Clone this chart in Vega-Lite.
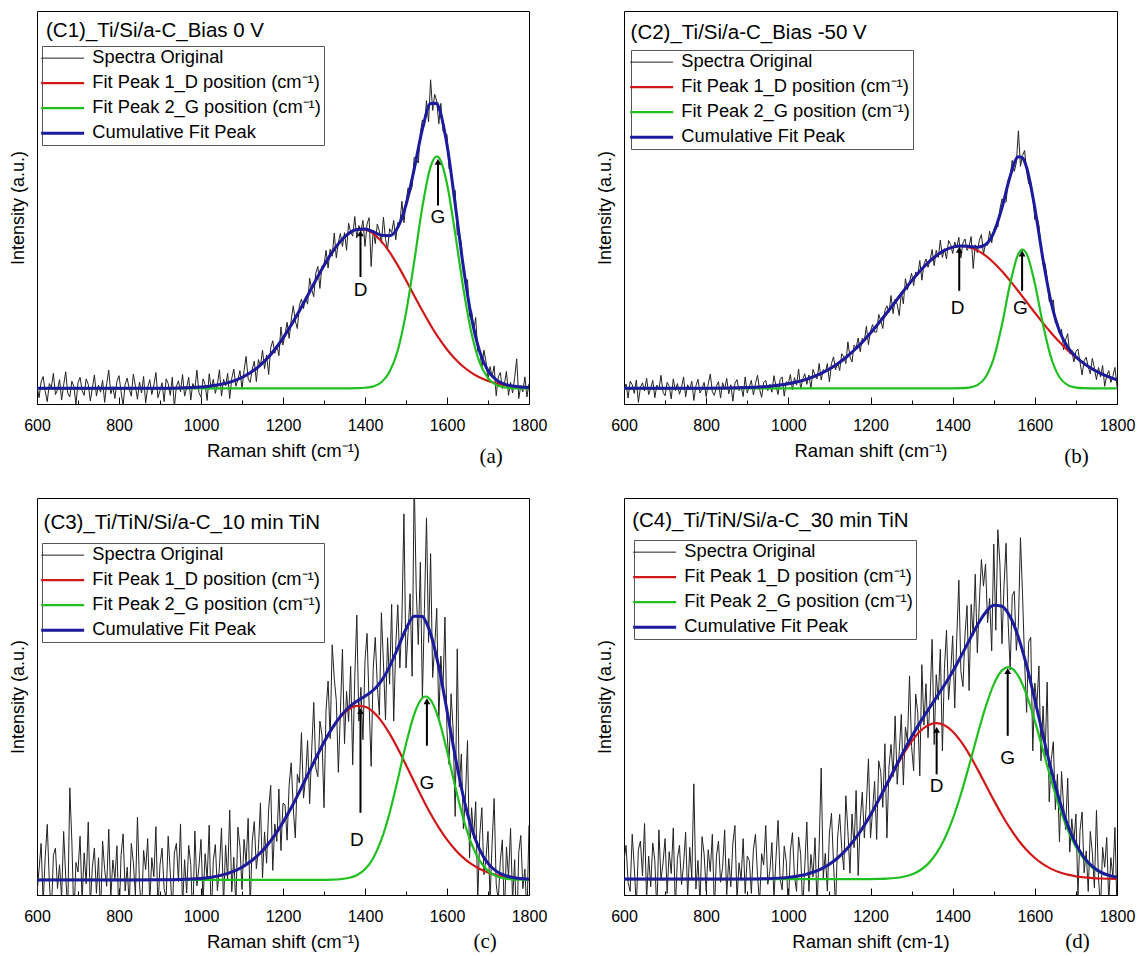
{
"$schema": "https://vega.github.io/schema/vega-lite/v6.json",
"padding": {"left": 8, "top": 10, "right": 5, "bottom": 5},
"background": "white",
"config": {"font": "Liberation Sans", "view": {"stroke": "black", "strokeWidth": 1}},
"columns": 2,
"bounds": "flush",
"spacing": {"row": 94, "column": 95},
"resolve": {"scale": {"color": "independent", "strokeWidth": "independent"}},
"datasets": {
"spec": [
{"x":600,"a":4.6,"b":3.6,"c":0.4,"d":8.7},{"x":605,"a":1.6,"b":5.1,"c":6.4,"d":12.5},{"x":610,"a":5.6,"b":1.5,"c":13.0,"d":3.2},{"x":615,"a":7.0,"b":5.8,"c":-2.0,"d":0.9},{"x":620,"a":3.2,"b":4.9,"c":9.4,"d":15.3},{"x":625,"a":0.6,"b":2.7,"c":17.8,"d":7.0},{"x":630,"a":5.2,"b":6.1,"c":3.4,"d":-2.9},{"x":635,"a":4.2,"b":0.4,"c":-5.0,"d":11.4},{"x":640,"a":7.8,"b":4.3,"c":10.0,"d":13.6},{"x":645,"a":2.4,"b":5.4,"c":11.8,"d":4.8},
{"x":650,"a":3.6,"b":3.3,"c":1.6,"d":18.0},{"x":655,"a":6.2,"b":6.6,"c":7.6,"d":-1.3},{"x":660,"a":1.0,"b":2.4,"c":-0.8,"d":9.8},{"x":665,"a":4.8,"b":4.0,"c":16.0,"d":2.1},{"x":670,"a":8.2,"b":6.0,"c":4.6,"d":13.1},{"x":675,"a":2.8,"b":1.6,"c":-3.8,"d":8.7},{"x":680,"a":1.8,"b":4.8,"c":27.0,"d":-4.6},{"x":685,"a":5.8,"b":3.7,"c":13.6,"d":16.4},{"x":690,"a":4.4,"b":7.3,"c":-6.2,"d":3.7},{"x":695,"a":0.0,"b":3.0,"c":8.2,"d":8.1},
{"x":700,"a":5.4,"b":2.1,"c":5.8,"d":14.2},{"x":705,"a":6.8,"b":5.5,"c":14.8,"d":0.4},{"x":710,"a":3.4,"b":4.5,"c":-1.4,"d":10.9},{"x":715,"a":2.2,"b":1.3,"c":10.6,"d":5.4},{"x":720,"a":6.4,"b":6.4,"c":2.8,"d":16.9},{"x":725,"a":5.0,"b":3.4,"c":18.4,"d":-3.5},{"x":730,"a":0.8,"b":5.2,"c":-2.6,"d":9.2},{"x":735,"a":4.0,"b":2.5,"c":7.0,"d":12.5},{"x":740,"a":7.4,"b":4.2,"c":11.8,"d":2.6},{"x":745,"a":2.0,"b":6.9,"c":0.4,"d":7.6},
{"x":750,"a":4.8,"b":1.8,"c":9.4,"d":15.8},{"x":755,"a":3.0,"b":4.9,"c":-5.6,"d":-0.7},{"x":760,"a":6.0,"b":3.6,"c":13.6,"d":12.0},{"x":765,"a":0.4,"b":5.8,"c":6.4,"d":4.3},{"x":770,"a":5.2,"b":0.9,"c":2.2,"d":28.0},{"x":775,"a":8.6,"b":4.6,"c":16.6,"d":1.5},{"x":780,"a":2.6,"b":6.3,"c":-0.8,"d":8.7},{"x":785,"a":4.4,"b":2.8,"c":8.8,"d":-1.8},{"x":790,"a":1.4,"b":3.9,"c":4.0,"d":14.7},{"x":795,"a":5.8,"b":5.5,"c":12.4,"d":10.3},
{"x":800,"a":7.2,"b":1.9,"c":-7.4,"d":1.0},{"x":805,"a":3.2,"b":5.1,"c":10.0,"d":11.4},{"x":810,"a":-0.4,"b":7.6,"c":15.4,"d":5.9},{"x":815,"a":5.0,"b":3.1,"c":1.0,"d":15.3},{"x":820,"a":6.6,"b":2.2,"c":7.0,"d":-4.0},{"x":825,"a":3.8,"b":4.5,"c":-2.6,"d":9.8},{"x":830,"a":2.0,"b":5.7,"c":13.0,"d":13.6},{"x":835,"a":7.6,"b":1.5,"c":8.2,"d":3.2},{"x":840,"a":4.6,"b":5.4,"c":-0.2,"d":7.0},{"x":845,"a":1.2,"b":3.8,"c":19.6,"d":16.4},
{"x":850,"a":5.6,"b":6.5,"c":2.8,"d":-0.2},{"x":855,"a":2.8,"b":2.6,"c":-4.4,"d":9.2},{"x":860,"a":7.0,"b":4.9,"c":11.2,"d":2.1},{"x":865,"a":0.2,"b":0.7,"c":6.4,"d":13.1},{"x":870,"a":4.2,"b":5.3,"c":14.2,"d":17.5},{"x":875,"a":6.2,"b":6.2,"c":-2.0,"d":-1.3},{"x":880,"a":2.4,"b":3.4,"c":9.4,"d":8.1},{"x":885,"a":4.8,"b":4.5,"c":4.6,"d":3.7},{"x":890,"a":8.0,"b":1.9,"c":17.2,"d":14.2},{"x":895,"a":1.6,"b":6.9,"c":-3.8,"d":0.4},
{"x":900,"a":3.4,"b":2.8,"c":7.6,"d":9.8},{"x":905,"a":5.4,"b":4.4,"c":11.8,"d":8.7},{"x":910,"a":0.6,"b":6.0,"c":1.6,"d":0.4},{"x":915,"a":6.4,"b":2.3,"c":-0.8,"d":11.5},{"x":920,"a":5.2,"b":5.2,"c":14.8,"d":15.3},{"x":925,"a":2.2,"b":7.3,"c":5.8,"d":4.9},{"x":930,"a":6.8,"b":3.8,"c":-5.0,"d":-2.3},{"x":935,"a":-0.8,"b":1.7,"c":10.6,"d":10.4},{"x":940,"a":4.5,"b":5.5,"c":13.0,"d":7.6},{"x":945,"a":5.9,"b":6.0,"c":3.4,"d":17.5},
{"x":950,"a":3.1,"b":3.4,"c":17.9,"d":2.7},{"x":955,"a":7.5,"b":5.0,"c":-3.1,"d":6.0},{"x":960,"a":2.0,"b":3.0,"c":8.9,"d":13.2},{"x":965,"a":4.1,"b":7.2,"c":0.5,"d":-1.0},{"x":970,"a":6.8,"b":4.5,"c":12.5,"d":9.4},{"x":975,"a":1.0,"b":2.4,"c":7.7,"d":18.8},{"x":980,"a":5.2,"b":6.2,"c":-6.7,"d":4.0},{"x":985,"a":3.8,"b":6.9,"c":16.1,"d":1.3},{"x":990,"a":8.6,"b":2.0,"c":2.3,"d":12.3},{"x":995,"a":2.9,"b":5.7,"c":7.1,"d":8.5},
{"x":1000,"a":1.7,"b":5.2,"c":14.0,"d":-3.6},{"x":1005,"a":6.4,"b":7.5,"c":-2.1,"d":11.1},{"x":1010,"a":5.0,"b":3.6,"c":10.4,"d":15.7},{"x":1015,"a":0.9,"b":6.7,"c":3.9,"d":4.7},{"x":1020,"a":7.7,"b":4.8,"c":17.6,"d":0.9},{"x":1025,"a":3.8,"b":8.9,"c":-6.4,"d":14.6},{"x":1030,"a":6.3,"b":3.8,"c":8.7,"d":10.2},{"x":1035,"a":2.7,"b":6.3,"c":12.7,"d":-3.4},{"x":1040,"a":5.0,"b":7.7,"c":1.1,"d":7.1},{"x":1045,"a":8.7,"b":5.0,"c":7.0,"d":18.4},
{"x":1050,"a":2.0,"b":7.4,"c":16.9,"d":0.9},{"x":1055,"a":6.3,"b":3.9,"c":-2.5,"d":10.2},{"x":1060,"a":4.6,"b":8.8,"c":12.6,"d":4.5},{"x":1065,"a":7.8,"b":7.3,"c":3.7,"d":14.4},{"x":1070,"a":1.4,"b":6.4,"c":21.4,"d":-3.5},{"x":1075,"a":6.5,"b":10.3,"c":0.8,"d":12.3},{"x":1080,"a":8.9,"b":6.1,"c":9.5,"d":32.0},{"x":1085,"a":4.5,"b":8.8,"c":-2.7,"d":4.3},{"x":1090,"a":6.1,"b":7.9,"c":17.1,"d":10.5},{"x":1095,"a":8.5,"b":10.3,"c":12.2,"d":1.0},
{"x":1100,"a":4.0,"b":5.6,"c":1.4,"d":15.6},{"x":1105,"a":8.5,"b":10.3,"c":14.0,"d":20.6},{"x":1110,"a":12.1,"b":12.0,"c":7.9,"d":7.9},{"x":1115,"a":6.4,"b":8.7,"c":19.3,"d":-3.4},{"x":1120,"a":5.5,"b":10.5,"c":-3.1,"d":14.6},{"x":1125,"a":8.9,"b":8.5,"c":13.6,"d":20.3},{"x":1130,"a":10.9,"b":12.8,"c":18.5,"d":11.7},{"x":1135,"a":5.7,"b":12.0,"c":6.6,"d":6.3},{"x":1140,"a":11.3,"b":10.3,"c":11.6,"d":25.0},{"x":1145,"a":9.6,"b":15.8,"c":23.2,"d":16.0},
{"x":1150,"a":13.7,"b":12.0,"c":4.3,"d":5.5},{"x":1155,"a":9.0,"b":10.7,"c":15.9,"d":20.4},{"x":1160,"a":12.5,"b":15.0,"c":8.0,"d":11.9},{"x":1165,"a":7.5,"b":14.3,"c":21.7,"d":26.3},{"x":1170,"a":14.3,"b":16.8,"c":27.6,"d":4.9},{"x":1175,"a":16.1,"b":13.3,"c":6.2,"d":18.7},{"x":1180,"a":12.9,"b":16.7,"c":17.9,"d":25.9},{"x":1185,"a":15.0,"b":16.0,"c":13.5,"d":14.4},{"x":1190,"a":12.3,"b":19.8,"c":26.7,"d":23.1},{"x":1195,"a":19.6,"b":15.1,"c":11.2,"d":34.3},
{"x":1200,"a":15.0,"b":18.5,"c":23.1,"d":14.4},{"x":1205,"a":17.8,"b":20.2,"c":22.7,"d":21.2},{"x":1210,"a":20.8,"b":18.3,"c":13.8,"d":28.6},{"x":1215,"a":16.7,"b":18.3,"c":27.8,"d":14.0},{"x":1220,"a":21.3,"b":22.8,"c":33.3,"d":33.8},{"x":1225,"a":25.0,"b":21.2,"c":21.9,"d":30.9},{"x":1230,"a":21.1,"b":19.2,"c":14.4,"d":22.1},{"x":1235,"a":19.2,"b":23.8,"c":30.4,"d":38.1},{"x":1240,"a":25.1,"b":25.0,"c":28.2,"d":14.4},{"x":1245,"a":26.7,"b":23.3,"c":40.9,"d":32.3},
{"x":1250,"a":24.3,"b":27.6,"c":24.4,"d":37.9},{"x":1255,"a":27.2,"b":23.0,"c":29.4,"d":29.8},{"x":1260,"a":25.4,"b":26.7,"c":38.9,"d":45.1},{"x":1265,"a":32.0,"b":25.3,"c":23.0,"d":27.9},{"x":1270,"a":29.1,"b":22.5,"c":36.4,"d":36.1},{"x":1275,"a":27.3,"b":28.5,"c":48.5,"d":45.5},{"x":1280,"a":33.3,"b":25.5,"c":32.0,"d":27.7},{"x":1285,"a":35.0,"b":31.9,"c":29.8,"d":42.3},{"x":1290,"a":29.4,"b":29.1,"c":43.8,"d":38.7},{"x":1295,"a":35.1,"b":31.0,"c":40.3,"d":55.2},
{"x":1300,"a":35.3,"b":33.3,"c":22.0,"d":37.4},{"x":1305,"a":39.1,"b":30.1,"c":46.7,"d":31.3},{"x":1310,"a":34.6,"b":33.6,"c":53.9,"d":50.6},{"x":1315,"a":39.4,"b":32.7,"c":39.4,"d":45.9},{"x":1320,"a":37.6,"b":36.5,"c":63.0,"d":30.0},{"x":1325,"a":43.5,"b":31.5,"c":54.6,"d":58.0},{"x":1330,"a":37.2,"b":35.5,"c":49.0,"d":42.8},{"x":1335,"a":41.1,"b":36.9,"c":30.9,"d":53.2},{"x":1340,"a":43.4,"b":34.8,"c":46.0,"d":39.6},{"x":1345,"a":40.1,"b":36.6,"c":61.9,"d":49.2},
{"x":1350,"a":43.6,"b":39.3,"c":38.1,"d":64.4},{"x":1355,"a":39.1,"b":35.2,"c":51.3,"d":37.9},{"x":1360,"a":46.0,"b":39.1,"c":43.7,"d":55.5},{"x":1365,"a":43.8,"b":37.3,"c":57.6,"d":49.1},{"x":1370,"a":42.7,"b":41.7,"c":32.8,"d":61.9},{"x":1375,"a":47.7,"b":37.3,"c":54.8,"d":36.3},{"x":1380,"a":42.2,"b":39.5,"c":70.5,"d":57.1},{"x":1385,"a":45.4,"b":36.9,"c":43.8,"d":66.7},{"x":1390,"a":43.9,"b":41.6,"c":52.3,"d":49.2},{"x":1395,"a":46.7,"b":40.6,"c":39.1,"d":55.7},
{"x":1400,"a":40.1,"b":38.3,"c":59.2,"d":65.3},{"x":1405,"a":45.8,"b":41.2,"c":65.9,"d":47.1},{"x":1410,"a":47.4,"b":39.8,"c":48.2,"d":64.8},{"x":1415,"a":35.0,"b":42.4,"c":32.4,"d":79.3},{"x":1420,"a":44.3,"b":37.2,"c":57.1,"d":56.3},{"x":1425,"a":40.8,"b":41.0,"c":64.9,"d":52.5},{"x":1430,"a":45.8,"b":42.0,"c":52.9,"d":65.5},{"x":1435,"a":44.0,"b":39.1,"c":45.3,"d":72.9},{"x":1440,"a":40.9,"b":40.1,"c":71.1,"d":51.5},{"x":1445,"a":47.5,"b":42.6,"c":58.5,"d":73.2},
{"x":1450,"a":41.9,"b":34.5,"c":44.1,"d":65.4},{"x":1455,"a":39.4,"b":40.5,"c":64.8,"d":80.8},{"x":1460,"a":44.6,"b":38.5,"c":53.1,"d":61.0},{"x":1465,"a":43.6,"b":41.7,"c":73.2,"d":73.8},{"x":1470,"a":46.7,"b":43.1,"c":43.8,"d":84.5},{"x":1475,"a":41.8,"b":38.1,"c":62.9,"d":77.8},{"x":1480,"a":46.2,"b":40.9,"c":73.1,"d":83.4},{"x":1485,"a":46.0,"b":40.4,"c":57.2,"d":68.6},{"x":1490,"a":51.6,"b":44.0,"c":69.2,"d":74.7},{"x":1495,"a":46.1,"b":41.0,"c":96.0,"d":61.5},
{"x":1500,"a":51.3,"b":44.3,"c":57.2,"d":88.4},{"x":1505,"a":55.0,"b":45.6,"c":66.1,"d":66.7},{"x":1510,"a":53.8,"b":45.0,"c":75.9,"d":92.0},{"x":1515,"a":55.3,"b":49.6,"c":55.1,"d":83.4},{"x":1520,"a":62.8,"b":52.2,"c":105,"d":63.3},{"x":1525,"a":62.3,"b":51.4,"c":76.6,"d":78.0},{"x":1530,"a":61.3,"b":51.4,"c":63.1,"d":88.6},{"x":1535,"a":69.0,"b":56.9,"c":83.8,"d":68.8},{"x":1540,"a":72.3,"b":58.1,"c":49.6,"d":56.7},{"x":1545,"a":70.8,"b":62.0,"c":72.2,"d":75.4},
{"x":1550,"a":77.2,"b":59.2,"c":95.0,"d":76.5},{"x":1555,"a":71.8,"b":61.4,"c":63.6,"d":61.6},{"x":1560,"a":82.5,"b":69.5,"c":86.0,"d":68.3},{"x":1565,"a":74.7,"b":60.5,"c":54.8,"d":90.0},{"x":1570,"a":78.8,"b":63.2,"c":62.6,"d":76.0},{"x":1575,"a":77.1,"b":64.5,"c":72.2,"d":59.0},{"x":1580,"a":71.3,"b":59.3,"c":44.0,"d":46.0},{"x":1585,"a":76.5,"b":56.0,"c":60.2,"d":63.8},{"x":1590,"a":69.5,"b":56.4,"c":51.1,"d":64.9},{"x":1595,"a":68.7,"b":52.8,"c":70.0,"d":36.3},
{"x":1600,"a":68.6,"b":46.9,"c":41.1,"d":53.4},{"x":1605,"a":59.8,"b":47.6,"c":32.9,"d":47.9},{"x":1610,"a":59.8,"b":45.4,"c":50.7,"d":57.7},{"x":1615,"a":54.0,"b":39.6,"c":41.5,"d":33.8},{"x":1620,"a":54.4,"b":35.4,"c":19.8,"d":47.6},{"x":1625,"a":43.0,"b":35.8,"c":62.0,"d":35.0},{"x":1630,"a":43.6,"b":32.0,"c":27.2,"d":53.6},{"x":1635,"a":40.8,"b":26.1,"c":35.5,"d":23.5},{"x":1640,"a":33.2,"b":25.7,"c":16.7,"d":34.1},{"x":1645,"a":31.8,"b":26.5,"c":24.7,"d":38.6},
{"x":1650,"a":31.6,"b":20.6,"c":38.9,"d":21.5},{"x":1655,"a":22.3,"b":20.9,"c":9.3,"d":30.4},{"x":1660,"a":23.7,"b":17.8,"c":22.0,"d":13.4},{"x":1665,"a":18.7,"b":19.0,"c":14.3,"d":31.1},{"x":1670,"a":22.0,"b":13.8,"c":23.5,"d":22.3},{"x":1675,"a":13.4,"b":16.4,"c":-1.0,"d":16.5},{"x":1680,"a":13.8,"b":17.9,"c":15.2,"d":29.4},{"x":1685,"a":8.9,"b":12.8,"c":22.0,"d":10.8},{"x":1690,"a":13.7,"b":13.6,"c":5.1,"d":19.2},{"x":1695,"a":10.9,"b":10.7,"c":9.1,"d":13.2},
{"x":1700,"a":6.3,"b":13.4,"c":16.0,"d":20.4},{"x":1705,"a":9.5,"b":14.0,"c":-1.3,"d":-0.2},{"x":1710,"a":6.9,"b":10.6,"c":12.9,"d":16.3},{"x":1715,"a":9.7,"b":7.4,"c":24.3,"d":20.9},{"x":1720,"a":2.1,"b":11.0,"c":2.8,"d":5.6},{"x":1725,"a":6.9,"b":11.9,"c":-1.6,"d":11.1},{"x":1730,"a":8.0,"b":9.4,"c":8.6,"d":0.9},{"x":1735,"a":3.9,"b":7.7,"c":13.9,"d":16.0},{"x":1740,"a":5.1,"b":11.6,"c":-5.9,"d":10.6},{"x":1745,"a":8.3,"b":9.1,"c":12.1,"d":1.8},
{"x":1750,"a":2.2,"b":6.2,"c":4.3,"d":21.3},{"x":1755,"a":5.5,"b":9.3,"c":16.8,"d":4.1},{"x":1760,"a":2.8,"b":6.9,"c":-1.6,"d":-3.4},{"x":1765,"a":6.7,"b":9.8,"c":8.9,"d":12.0},{"x":1770,"a":11.5,"b":4.5,"c":-10.8,"d":7.0},{"x":1775,"a":1.4,"b":7.3,"c":10.8,"d":14.5},{"x":1780,"a":4.7,"b":8.5,"c":15.0,"d":-1.9},{"x":1785,"a":3.1,"b":5.5,"c":1.6,"d":9.4},{"x":1790,"a":6.9,"b":7.1,"c":6.5,"d":4.5},{"x":1795,"a":1.8,"b":9.3,"c":-5.5,"d":17.0},
{"x":1800,"a":5.2,"b":4.4,"c":17.6,"d":-4.1}
],
"fa": [
{"x":600,"D":4,"G":4,"C":4},{"x":700,"D":4,"G":4,"C":4},{"x":800,"D":4,"G":4,"C":4},{"x":900,"D":4.02,"G":4,"C":4.02},{"x":950,"D":4.08,"G":4,"C":4.08},{"x":1000,"D":4.31,"G":4,"C":4.31},{"x":1020,"D":4.51,"G":4,"C":4.51},{"x":1040,"D":4.81,"G":4,"C":4.81},{"x":1060,"D":5.24,"G":4,"C":5.24},{"x":1080,"D":5.87,"G":4,"C":5.87},{"x":1100,"D":6.75,"G":4,"C":6.75},{"x":1120,"D":7.93,"G":4,"C":7.93},{"x":1140,"D":9.47,"G":4,"C":9.47},{"x":1160,"D":11.45,"G":4,"C":11.45},{"x":1180,"D":13.88,"G":4,"C":13.88},{"x":1200,"D":16.76,"G":4,"C":16.76},{"x":1220,"D":20.08,"G":4,"C":20.08},{"x":1240,"D":23.72,"G":4,"C":23.72},{"x":1260,"D":27.57,"G":4,"C":27.57},{"x":1280,"D":31.5,"G":4,"C":31.5},{"x":1300,"D":35.27,"G":4,"C":35.27},{"x":1320,"D":38.63,"G":4,"C":38.63},{"x":1340,"D":41.38,"G":4,"C":41.38},{"x":1360,"D":43.37,"G":4,"C":43.37},{"x":1380,"D":44.38,"G":4.02,"C":44.4},{"x":1400,"D":44.38,"G":4.13,"C":44.51},{"x":1420,"D":43.37,"G":4.48,"C":43.85},{"x":1440,"D":41.38,"G":5.53,"C":42.91},{"x":1460,"D":38.63,"G":8.19,"C":42.82},{"x":1480,"D":35.27,"G":13.68,"C":44.95},{"x":1500,"D":31.5,"G":23.18,"C":50.68},{"x":1520,"D":27.57,"G":36.21,"C":59.78},{"x":1540,"D":23.72,"G":50.2,"C":69.92},{"x":1560,"D":20.08,"G":60.4,"C":76.48},{"x":1575,"D":17.53,"G":63,"C":76.53},{"x":1580,"D":16.76,"G":62.7,"C":75.46},{"x":1600,"D":13.88,"G":56.07,"C":65.95},{"x":1620,"D":11.45,"G":43.35,"C":50.8},{"x":1640,"D":9.47,"G":29.37,"C":34.84},{"x":1660,"D":7.93,"G":17.92,"C":21.85},{"x":1680,"D":6.75,"G":10.49,"C":13.24},{"x":1700,"D":5.87,"G":6.6,"C":8.47},{"x":1720,"D":5.24,"G":4.89,"C":6.13},{"x":1740,"D":4.81,"G":4.25,"C":5.06},{"x":1760,"D":4.51,"G":4.06,"C":4.57},{"x":1780,"D":4.31,"G":4,"C":4.31},{"x":1800,"D":4.2,"G":4,"C":4.2}
],
"fb": [
{"x":600,"D":4,"G":4,"C":4},{"x":700,"D":4,"G":4,"C":4},{"x":800,"D":4.02,"G":4,"C":4.02},{"x":900,"D":4.18,"G":4,"C":4.18},{"x":950,"D":4.48,"G":4,"C":4.48},{"x":1000,"D":5.15,"G":4,"C":5.15},{"x":1020,"D":5.59,"G":4,"C":5.59},{"x":1040,"D":6.15,"G":4,"C":6.15},{"x":1060,"D":6.88,"G":4,"C":6.88},{"x":1080,"D":7.79,"G":4,"C":7.79},{"x":1100,"D":8.9,"G":4,"C":8.9},{"x":1120,"D":10.24,"G":4,"C":10.24},{"x":1140,"D":11.84,"G":4,"C":11.84},{"x":1160,"D":13.67,"G":4,"C":13.67},{"x":1180,"D":15.75,"G":4,"C":15.75},{"x":1200,"D":18.07,"G":4,"C":18.07},{"x":1220,"D":20.57,"G":4,"C":20.57},{"x":1240,"D":23.23,"G":4,"C":23.23},{"x":1260,"D":25.96,"G":4,"C":25.96},{"x":1280,"D":28.69,"G":4,"C":28.69},{"x":1300,"D":31.32,"G":4,"C":31.32},{"x":1320,"D":33.78,"G":4,"C":33.78},{"x":1340,"D":35.95,"G":4,"C":35.95},{"x":1360,"D":37.74,"G":4,"C":37.74},{"x":1380,"D":39.09,"G":4,"C":39.09},{"x":1400,"D":39.92,"G":4,"C":39.92},{"x":1420,"D":40.2,"G":4.03,"C":40.23},{"x":1440,"D":39.92,"G":4.18,"C":40.1},{"x":1460,"D":39.09,"G":4.8,"C":39.89},{"x":1480,"D":37.74,"G":6.81,"C":40.55},{"x":1500,"D":35.95,"G":11.64,"C":43.59},{"x":1520,"D":33.78,"G":20.16,"C":49.94},{"x":1540,"D":31.32,"G":30.64,"C":57.96},{"x":1560,"D":28.69,"G":38.21,"C":62.9},{"x":1570,"D":27.32,"G":39.3,"C":62.62},{"x":1580,"D":25.96,"G":38.21,"C":60.17},{"x":1600,"D":23.23,"G":30.64,"C":49.87},{"x":1620,"D":20.57,"G":20.16,"C":36.73},{"x":1640,"D":18.07,"G":11.64,"C":25.71},{"x":1660,"D":15.75,"G":6.81,"C":18.56},{"x":1680,"D":13.67,"G":4.8,"C":14.47},{"x":1700,"D":11.84,"G":4.18,"C":12.02},{"x":1720,"D":10.24,"G":4.03,"C":10.27},{"x":1740,"D":8.9,"G":4,"C":8.9},{"x":1760,"D":7.79,"G":4,"C":7.79},{"x":1780,"D":6.88,"G":4,"C":6.88},{"x":1800,"D":6.15,"G":4,"C":6.15}
],
"fc": [
{"x":600,"D":3.8,"G":3.8,"C":3.8},{"x":700,"D":3.8,"G":3.8,"C":3.8},{"x":800,"D":3.8,"G":3.8,"C":3.8},{"x":900,"D":3.82,"G":3.8,"C":3.82},{"x":950,"D":3.9,"G":3.8,"C":3.9},{"x":1000,"D":4.17,"G":3.8,"C":4.17},{"x":1020,"D":4.4,"G":3.8,"C":4.4},{"x":1040,"D":4.75,"G":3.8,"C":4.75},{"x":1060,"D":5.27,"G":3.8,"C":5.27},{"x":1080,"D":5.99,"G":3.8,"C":5.99},{"x":1100,"D":7.0,"G":3.8,"C":7.0},{"x":1120,"D":8.36,"G":3.8,"C":8.36},{"x":1140,"D":10.13,"G":3.8,"C":10.13},{"x":1160,"D":12.36,"G":3.8,"C":12.36},{"x":1180,"D":15.09,"G":3.8,"C":15.09},{"x":1200,"D":18.31,"G":3.8,"C":18.31},{"x":1220,"D":21.98,"G":3.8,"C":21.98},{"x":1240,"D":25.99,"G":3.8,"C":25.99},{"x":1260,"D":30.23,"G":3.8,"C":30.23},{"x":1280,"D":34.44,"G":3.8,"C":34.44},{"x":1300,"D":38.45,"G":3.82,"C":38.47},{"x":1320,"D":41.98,"G":3.85,"C":42.03},{"x":1340,"D":44.82,"G":3.97,"C":44.99},{"x":1360,"D":46.76,"G":4.27,"C":47.23},{"x":1380,"D":47.65,"G":4.97,"C":48.82},{"x":1400,"D":47.42,"G":6.47,"C":50.09},{"x":1420,"D":46.11,"G":9.27,"C":51.58},{"x":1440,"D":43.79,"G":13.94,"C":53.93},{"x":1460,"D":40.65,"G":20.67,"C":57.52},{"x":1480,"D":36.89,"G":29.12,"C":62.21},{"x":1500,"D":32.76,"G":38.04,"C":67.0},{"x":1520,"D":28.52,"G":45.52,"C":70.24},{"x":1540,"D":24.35,"G":49.62,"C":70.17},{"x":1548,"D":22.75,"G":50.0,"C":68.95},{"x":1560,"D":20.46,"G":49.14,"C":65.8},{"x":1580,"D":16.97,"G":44.23,"C":57.4},{"x":1600,"D":13.95,"G":36.29,"C":46.44},{"x":1620,"D":11.42,"G":27.33,"C":34.95},{"x":1640,"D":9.37,"G":19.16,"C":24.73},{"x":1660,"D":7.77,"G":12.84,"C":16.81},{"x":1680,"D":6.56,"G":8.59,"C":11.35},{"x":1700,"D":5.67,"G":6.09,"C":7.96},{"x":1720,"D":5.04,"G":4.78,"C":6.02},{"x":1740,"D":4.59,"G":4.18,"C":4.97},{"x":1760,"D":4.3,"G":3.93,"C":4.43},{"x":1780,"D":4.11,"G":3.84,"C":4.15},{"x":1800,"D":3.98,"G":3.81,"C":3.99}
],
"fd": [
{"x":600,"D":4,"G":4,"C":4},{"x":700,"D":4,"G":4,"C":4},{"x":800,"D":4,"G":4,"C":4},{"x":900,"D":4.03,"G":4,"C":4.03},{"x":950,"D":4.11,"G":4,"C":4.11},{"x":1000,"D":4.44,"G":4,"C":4.44},{"x":1020,"D":4.71,"G":4,"C":4.71},{"x":1040,"D":5.12,"G":4,"C":5.12},{"x":1060,"D":5.73,"G":4,"C":5.73},{"x":1080,"D":6.58,"G":4,"C":6.58},{"x":1100,"D":7.76,"G":4,"C":7.76},{"x":1120,"D":9.32,"G":4,"C":9.32},{"x":1140,"D":11.33,"G":4,"C":11.33},{"x":1160,"D":13.8,"G":4,"C":13.8},{"x":1180,"D":16.76,"G":4,"C":16.76},{"x":1200,"D":20.16,"G":4.02,"C":20.18},{"x":1220,"D":23.9,"G":4.06,"C":23.96},{"x":1240,"D":27.84,"G":4.13,"C":27.97},{"x":1260,"D":31.77,"G":4.28,"C":32.05},{"x":1280,"D":35.47,"G":4.59,"C":36.06},{"x":1300,"D":38.68,"G":5.17,"C":39.85},{"x":1320,"D":41.18,"G":6.18,"C":43.36},{"x":1340,"D":42.76,"G":7.84,"C":46.6},{"x":1360,"D":43.3,"G":10.41,"C":49.71},{"x":1380,"D":42.76,"G":14.12,"C":52.88},{"x":1400,"D":41.18,"G":19.13,"C":56.31},{"x":1420,"D":38.68,"G":25.39,"C":60.07},{"x":1440,"D":35.47,"G":32.6,"C":64.07},{"x":1460,"D":31.77,"G":40.19,"C":67.96},{"x":1480,"D":27.84,"G":47.31,"C":71.15},{"x":1500,"D":23.9,"G":53.06,"C":72.96},{"x":1520,"D":20.16,"G":56.58,"C":72.74},{"x":1535,"D":17.57,"G":57.4,"C":70.97},{"x":1540,"D":16.76,"G":57.31,"C":70.07},{"x":1560,"D":13.8,"G":55.14,"C":64.94},{"x":1580,"D":11.33,"G":50.43,"C":57.76},{"x":1600,"D":9.32,"G":43.86,"C":49.18},{"x":1620,"D":7.76,"G":36.39,"C":40.15},{"x":1640,"D":6.58,"G":28.91,"C":31.49},{"x":1660,"D":5.73,"G":22.1,"C":23.83},{"x":1680,"D":5.12,"G":16.46,"C":17.58},{"x":1700,"D":4.71,"G":12.11,"C":12.82},{"x":1720,"D":4.44,"G":9.0,"C":9.44},{"x":1740,"D":4.27,"G":6.92,"C":7.19},{"x":1760,"D":4.15,"G":5.61,"C":5.76},{"x":1780,"D":4.09,"G":4.84,"C":4.93},{"x":1800,"D":4.05,"G":4.41,"C":4.46}
],
"arr": [
{"p":"a","k":"D","x":1389,"y1":32.3,"y2":43.4,"lx":1389,"ly":29.0},
{"p":"a","k":"G","x":1578,"y1":50.5,"y2":61.6,"lx":1578,"ly":47.5},
{"p":"b","k":"D","x":1416,"y1":28.8,"y2":39.2,"lx":1412,"ly":24.5},
{"p":"b","k":"G","x":1569,"y1":28.8,"y2":38.3,"lx":1565,"ly":24.5},
{"p":"c","k":"D","x":1389,"y1":20.7,"y2":46.3,"lx":1380,"ly":13.9},
{"p":"c","k":"G","x":1551,"y1":37.6,"y2":48.8,"lx":1551,"ly":28.3},
{"p":"d","k":"D","x":1361,"y1":30.4,"y2":41.6,"lx":1361,"ly":27.4},
{"p":"d","k":"G","x":1534,"y1":40.1,"y2":56.4,"lx":1534,"ly":34.6}
]
},
"concat": [
{
"width": 492, "height": 393,
"title": {"text": "(a)", "orient": "bottom", "anchor": "end", "font": "Liberation Serif", "fontSize": 21, "fontWeight": "normal", "color": "black", "offset": -14, "dx": -44},
"layer": [
{"data": {"name": "spec"}, "mark": {"type": "line", "clip": true},
 "encoding": {
  "x": {"field": "x", "type": "quantitative", "scale": {"domain": [600, 1800], "nice": false, "zero": false},
        "axis": {"title": "Raman shift (cm⁻¹)", "values": [600,700,800,900,1000,1100,1200,1300,1400,1500,1600,1700,1800], "format": "d", "labelExpr": "datum.value % 200 === 0 ? datum.label : ''", "tickSize": {"condition": {"test": "datum.value % 200 === 0", "value": -7}, "value": -4}, "tickColor": "black", "domainColor": "black", "labelPadding": 20, "labelFontSize": 16, "labelColor": "black", "titleFontSize": 18.5, "titleFontWeight": "normal", "titleColor": "black", "titlePadding": 5, "grid": false, "labelFlush": false, "labelOverlap": false}},
  "y": {"field": "a", "type": "quantitative", "scale": {"domain": [0, 100], "nice": false, "zero": false},
        "axis": {"title": "Intensity (a.u.)", "ticks": false, "labels": false, "domain": false, "grid": false, "titleFontSize": 18, "titleFontWeight": "normal", "titleColor": "black", "titlePadding": 10}},
  "color": {"datum": "S", "type": "nominal", "scale": {"domain": ["S","D","G","C"], "range": ["#222222","#d01818","#1fbf1f","#1b1b9e"]},
        "legend": {"orient": "none", "legendX": 5, "legendY": 35, "title": null, "symbolType": "M-2.6,0H6.0", "symbolSize": 100, "symbolOffset": 0, "labelOffset": 29, "labelFontSize": 18.3, "labelFont": "Liberation Sans", "labelColor": "black", "labelLimit": 400, "strokeColor": "#555555", "padding": 3, "rowPadding": 6, "labelExpr": "datum.label === 'S' ? 'Spectra Original' : datum.label === 'D' ? 'Fit Peak 1_D position (cm⁻¹)' : datum.label === 'G' ? 'Fit Peak 2_G position (cm⁻¹)' : 'Cumulative Fit Peak'"}},
  "strokeWidth": {"datum": "S", "type": "nominal", "scale": {"type": "ordinal", "domain": ["S","D","G","C"], "range": [1, 2.2, 2.2, 3]},
        "legend": {"orient": "none", "legendX": 5, "legendY": 35, "title": null, "symbolType": "M-2.6,0H6.0", "symbolSize": 100, "symbolOffset": 0, "labelOffset": 29, "labelFontSize": 18.3, "labelFont": "Liberation Sans", "labelColor": "black", "labelLimit": 400, "strokeColor": "#555555", "padding": 3, "rowPadding": 6, "labelExpr": "datum.label === 'S' ? 'Spectra Original' : datum.label === 'D' ? 'Fit Peak 1_D position (cm⁻¹)' : datum.label === 'G' ? 'Fit Peak 2_G position (cm⁻¹)' : 'Cumulative Fit Peak'"}}
 }},
{"data": {"name": "fa"}, "transform": [{"fold": ["D","G","C"], "as": ["k","v"]}], "mark": {"type": "line", "interpolate": "monotone", "clip": true},
 "encoding": {
  "x": {"field": "x", "type": "quantitative"},
  "y": {"field": "v", "type": "quantitative"},
  "color": {"field": "k", "type": "nominal", "scale": {"domain": ["S","D","G","C"], "range": ["#222222","#d01818","#1fbf1f","#1b1b9e"]}, "legend": {"title": null}},
  "strokeWidth": {"field": "k", "type": "nominal", "scale": {"type": "ordinal", "domain": ["S","D","G","C"], "range": [1, 2.2, 2.2, 3]}, "legend": {"title": null}}
 }},
{"data": {"name": "arr"}, "transform": [{"filter": "datum.p === 'a'"}], "mark": {"type": "rule", "color": "black", "strokeWidth": 2},
 "encoding": {"x": {"field": "x", "type": "quantitative"}, "y": {"field": "y1", "type": "quantitative"}, "y2": {"field": "y2"}}},
{"data": {"name": "arr"}, "transform": [{"filter": "datum.p === 'a'"}], "mark": {"type": "point", "shape": "triangle-up", "filled": true, "color": "black", "size": 45, "opacity": 1},
 "encoding": {"x": {"field": "x", "type": "quantitative"}, "y": {"field": "y2", "type": "quantitative"}}},
{"data": {"name": "arr"}, "transform": [{"filter": "datum.p === 'a'"}], "mark": {"type": "text", "fontSize": 19, "color": "black", "baseline": "middle", "align": "center", "font": "Liberation Sans"},
 "encoding": {"x": {"field": "lx", "type": "quantitative"}, "y": {"field": "ly", "type": "quantitative"}, "text": {"field": "k"}}},
{"data": {"values": [{}]}, "mark": {"type": "text", "fontSize": 20.5, "align": "left", "baseline": "middle", "color": "black", "font": "Liberation Sans"},
 "encoding": {"x": {"datum": 622}, "y": {"datum": 94.9}, "text": {"value": "(C1)_Ti/Si/a-C_Bias 0 V"}}}
]
},
{
"width": 493, "height": 393,
"title": {"text": "(b)", "orient": "bottom", "anchor": "end", "font": "Liberation Serif", "fontSize": 21, "fontWeight": "normal", "color": "black", "offset": -14, "dx": -46},
"layer": [
{"data": {"name": "spec"}, "mark": {"type": "line", "clip": true},
 "encoding": {
  "x": {"field": "x", "type": "quantitative", "scale": {"domain": [600, 1800], "nice": false, "zero": false},
        "axis": {"title": "Raman shift (cm⁻¹)", "values": [600,700,800,900,1000,1100,1200,1300,1400,1500,1600,1700,1800], "format": "d", "labelExpr": "datum.value % 200 === 0 ? datum.label : ''", "tickSize": {"condition": {"test": "datum.value % 200 === 0", "value": -7}, "value": -4}, "tickColor": "black", "domainColor": "black", "labelPadding": 20, "labelFontSize": 16, "labelColor": "black", "titleFontSize": 18.5, "titleFontWeight": "normal", "titleColor": "black", "titlePadding": 5, "grid": false, "labelFlush": false, "labelOverlap": false}},
  "y": {"field": "b", "type": "quantitative", "scale": {"domain": [0, 100], "nice": false, "zero": false},
        "axis": {"title": "Intensity (a.u.)", "ticks": false, "labels": false, "domain": false, "grid": false, "titleFontSize": 18, "titleFontWeight": "normal", "titleColor": "black", "titlePadding": 10}},
  "color": {"datum": "S", "type": "nominal", "scale": {"domain": ["S","D","G","C"], "range": ["#222222","#d01818","#1fbf1f","#1b1b9e"]},
        "legend": {"orient": "none", "legendX": 7, "legendY": 39, "title": null, "symbolType": "M-2.6,0H6.0", "symbolSize": 100, "symbolOffset": 0, "labelOffset": 29, "labelFontSize": 18.3, "labelFont": "Liberation Sans", "labelColor": "black", "labelLimit": 400, "strokeColor": "#555555", "padding": 3, "rowPadding": 6, "labelExpr": "datum.label === 'S' ? 'Spectra Original' : datum.label === 'D' ? 'Fit Peak 1_D position (cm⁻¹)' : datum.label === 'G' ? 'Fit Peak 2_G position (cm⁻¹)' : 'Cumulative Fit Peak'"}},
  "strokeWidth": {"datum": "S", "type": "nominal", "scale": {"type": "ordinal", "domain": ["S","D","G","C"], "range": [1, 2.2, 2.2, 3]},
        "legend": {"orient": "none", "legendX": 7, "legendY": 39, "title": null, "symbolType": "M-2.6,0H6.0", "symbolSize": 100, "symbolOffset": 0, "labelOffset": 29, "labelFontSize": 18.3, "labelFont": "Liberation Sans", "labelColor": "black", "labelLimit": 400, "strokeColor": "#555555", "padding": 3, "rowPadding": 6, "labelExpr": "datum.label === 'S' ? 'Spectra Original' : datum.label === 'D' ? 'Fit Peak 1_D position (cm⁻¹)' : datum.label === 'G' ? 'Fit Peak 2_G position (cm⁻¹)' : 'Cumulative Fit Peak'"}}
 }},
{"data": {"name": "fb"}, "transform": [{"fold": ["D","G","C"], "as": ["k","v"]}], "mark": {"type": "line", "interpolate": "monotone", "clip": true},
 "encoding": {
  "x": {"field": "x", "type": "quantitative"},
  "y": {"field": "v", "type": "quantitative"},
  "color": {"field": "k", "type": "nominal", "scale": {"domain": ["S","D","G","C"], "range": ["#222222","#d01818","#1fbf1f","#1b1b9e"]}, "legend": {"title": null}},
  "strokeWidth": {"field": "k", "type": "nominal", "scale": {"type": "ordinal", "domain": ["S","D","G","C"], "range": [1, 2.2, 2.2, 3]}, "legend": {"title": null}}
 }},
{"data": {"name": "arr"}, "transform": [{"filter": "datum.p === 'b'"}], "mark": {"type": "rule", "color": "black", "strokeWidth": 2},
 "encoding": {"x": {"field": "x", "type": "quantitative"}, "y": {"field": "y1", "type": "quantitative"}, "y2": {"field": "y2"}}},
{"data": {"name": "arr"}, "transform": [{"filter": "datum.p === 'b'"}], "mark": {"type": "point", "shape": "triangle-up", "filled": true, "color": "black", "size": 45, "opacity": 1},
 "encoding": {"x": {"field": "x", "type": "quantitative"}, "y": {"field": "y2", "type": "quantitative"}}},
{"data": {"name": "arr"}, "transform": [{"filter": "datum.p === 'b'"}], "mark": {"type": "text", "fontSize": 19, "color": "black", "baseline": "middle", "align": "center", "font": "Liberation Sans"},
 "encoding": {"x": {"field": "lx", "type": "quantitative"}, "y": {"field": "ly", "type": "quantitative"}, "text": {"field": "k"}}},
{"data": {"values": [{}]}, "mark": {"type": "text", "fontSize": 20.5, "align": "left", "baseline": "middle", "color": "black", "font": "Liberation Sans"},
 "encoding": {"x": {"datum": 616}, "y": {"datum": 94.3}, "text": {"value": "(C2)_Ti/Si/a-C_Bias -50 V"}}}
]
},
{
"width": 492, "height": 397,
"title": {"text": "(c)", "orient": "bottom", "anchor": "end", "font": "Liberation Serif", "fontSize": 21, "fontWeight": "normal", "color": "black", "offset": -20, "dx": -50},
"layer": [
{"data": {"name": "spec"}, "mark": {"type": "line", "clip": true},
 "encoding": {
  "x": {"field": "x", "type": "quantitative", "scale": {"domain": [600, 1800], "nice": false, "zero": false},
        "axis": {"title": "Raman shift (cm⁻¹)", "values": [600,700,800,900,1000,1100,1200,1300,1400,1500,1600,1700,1800], "format": "d", "labelExpr": "datum.value % 200 === 0 ? datum.label : ''", "tickSize": {"condition": {"test": "datum.value % 200 === 0", "value": -7}, "value": -4}, "tickColor": "black", "domainColor": "black", "labelPadding": 20, "labelFontSize": 16, "labelColor": "black", "titleFontSize": 18.5, "titleFontWeight": "normal", "titleColor": "black", "titlePadding": 5, "grid": false, "labelFlush": false, "labelOverlap": false}},
  "y": {"field": "c", "type": "quantitative", "scale": {"domain": [0, 100], "nice": false, "zero": false},
        "axis": {"title": "Intensity (a.u.)", "ticks": false, "labels": false, "domain": false, "grid": false, "titleFontSize": 18, "titleFontWeight": "normal", "titleColor": "black", "titlePadding": 10}},
  "color": {"datum": "S", "type": "nominal", "scale": {"domain": ["S","D","G","C"], "range": ["#222222","#d01818","#1fbf1f","#1b1b9e"]},
        "legend": {"orient": "none", "legendX": 5, "legendY": 45, "title": null, "symbolType": "M-2.6,0H6.0", "symbolSize": 100, "symbolOffset": 0, "labelOffset": 29, "labelFontSize": 18.3, "labelFont": "Liberation Sans", "labelColor": "black", "labelLimit": 400, "strokeColor": "#555555", "padding": 3, "rowPadding": 6, "labelExpr": "datum.label === 'S' ? 'Spectra Original' : datum.label === 'D' ? 'Fit Peak 1_D position (cm⁻¹)' : datum.label === 'G' ? 'Fit Peak 2_G position (cm⁻¹)' : 'Cumulative Fit Peak'"}},
  "strokeWidth": {"datum": "S", "type": "nominal", "scale": {"type": "ordinal", "domain": ["S","D","G","C"], "range": [1, 2.2, 2.2, 3]},
        "legend": {"orient": "none", "legendX": 5, "legendY": 45, "title": null, "symbolType": "M-2.6,0H6.0", "symbolSize": 100, "symbolOffset": 0, "labelOffset": 29, "labelFontSize": 18.3, "labelFont": "Liberation Sans", "labelColor": "black", "labelLimit": 400, "strokeColor": "#555555", "padding": 3, "rowPadding": 6, "labelExpr": "datum.label === 'S' ? 'Spectra Original' : datum.label === 'D' ? 'Fit Peak 1_D position (cm⁻¹)' : datum.label === 'G' ? 'Fit Peak 2_G position (cm⁻¹)' : 'Cumulative Fit Peak'"}}
 }},
{"data": {"name": "fc"}, "transform": [{"fold": ["D","G","C"], "as": ["k","v"]}], "mark": {"type": "line", "interpolate": "monotone", "clip": true},
 "encoding": {
  "x": {"field": "x", "type": "quantitative"},
  "y": {"field": "v", "type": "quantitative"},
  "color": {"field": "k", "type": "nominal", "scale": {"domain": ["S","D","G","C"], "range": ["#222222","#d01818","#1fbf1f","#1b1b9e"]}, "legend": {"title": null}},
  "strokeWidth": {"field": "k", "type": "nominal", "scale": {"type": "ordinal", "domain": ["S","D","G","C"], "range": [1, 2.2, 2.2, 3]}, "legend": {"title": null}}
 }},
{"data": {"name": "arr"}, "transform": [{"filter": "datum.p === 'c'"}], "mark": {"type": "rule", "color": "black", "strokeWidth": 2},
 "encoding": {"x": {"field": "x", "type": "quantitative"}, "y": {"field": "y1", "type": "quantitative"}, "y2": {"field": "y2"}}},
{"data": {"name": "arr"}, "transform": [{"filter": "datum.p === 'c'"}], "mark": {"type": "point", "shape": "triangle-up", "filled": true, "color": "black", "size": 45, "opacity": 1},
 "encoding": {"x": {"field": "x", "type": "quantitative"}, "y": {"field": "y2", "type": "quantitative"}}},
{"data": {"name": "arr"}, "transform": [{"filter": "datum.p === 'c'"}], "mark": {"type": "text", "fontSize": 19, "color": "black", "baseline": "middle", "align": "center", "font": "Liberation Sans"},
 "encoding": {"x": {"field": "lx", "type": "quantitative"}, "y": {"field": "ly", "type": "quantitative"}, "text": {"field": "k"}}},
{"data": {"values": [{}]}, "mark": {"type": "text", "fontSize": 20.5, "align": "left", "baseline": "middle", "color": "black", "font": "Liberation Sans"},
 "encoding": {"x": {"datum": 616}, "y": {"datum": 93.7}, "text": {"value": "(C3)_Ti/TiN/Si/a-C_10 min TiN"}}}
]
},
{
"width": 493, "height": 397,
"title": {"text": "(d)", "orient": "bottom", "anchor": "end", "font": "Liberation Serif", "fontSize": 21, "fontWeight": "normal", "color": "black", "offset": -20, "dx": -45},
"layer": [
{"data": {"name": "spec"}, "mark": {"type": "line", "clip": true},
 "encoding": {
  "x": {"field": "x", "type": "quantitative", "scale": {"domain": [600, 1800], "nice": false, "zero": false},
        "axis": {"title": "Raman shift (cm-1)", "values": [600,700,800,900,1000,1100,1200,1300,1400,1500,1600,1700,1800], "format": "d", "labelExpr": "datum.value % 200 === 0 ? datum.label : ''", "tickSize": {"condition": {"test": "datum.value % 200 === 0", "value": -7}, "value": -4}, "tickColor": "black", "domainColor": "black", "labelPadding": 20, "labelFontSize": 16, "labelColor": "black", "titleFontSize": 18.5, "titleFontWeight": "normal", "titleColor": "black", "titlePadding": 5, "grid": false, "labelFlush": false, "labelOverlap": false}},
  "y": {"field": "d", "type": "quantitative", "scale": {"domain": [0, 100], "nice": false, "zero": false},
        "axis": {"title": "Intensity (a.u.)", "ticks": false, "labels": false, "domain": false, "grid": false, "titleFontSize": 18, "titleFontWeight": "normal", "titleColor": "black", "titlePadding": 10}},
  "color": {"datum": "S", "type": "nominal", "scale": {"domain": ["S","D","G","C"], "range": ["#222222","#d01818","#1fbf1f","#1b1b9e"]},
        "legend": {"orient": "none", "legendX": 10, "legendY": 42, "title": null, "symbolType": "M-2.6,0H6.0", "symbolSize": 100, "symbolOffset": 0, "labelOffset": 29, "labelFontSize": 18.3, "labelFont": "Liberation Sans", "labelColor": "black", "labelLimit": 400, "strokeColor": "#555555", "padding": 3, "rowPadding": 6, "labelExpr": "datum.label === 'S' ? 'Spectra Original' : datum.label === 'D' ? 'Fit Peak 1_D position (cm⁻¹)' : datum.label === 'G' ? 'Fit Peak 2_G position (cm⁻¹)' : 'Cumulative Fit Peak'"}},
  "strokeWidth": {"datum": "S", "type": "nominal", "scale": {"type": "ordinal", "domain": ["S","D","G","C"], "range": [1, 2.2, 2.2, 3]},
        "legend": {"orient": "none", "legendX": 10, "legendY": 42, "title": null, "symbolType": "M-2.6,0H6.0", "symbolSize": 100, "symbolOffset": 0, "labelOffset": 29, "labelFontSize": 18.3, "labelFont": "Liberation Sans", "labelColor": "black", "labelLimit": 400, "strokeColor": "#555555", "padding": 3, "rowPadding": 6, "labelExpr": "datum.label === 'S' ? 'Spectra Original' : datum.label === 'D' ? 'Fit Peak 1_D position (cm⁻¹)' : datum.label === 'G' ? 'Fit Peak 2_G position (cm⁻¹)' : 'Cumulative Fit Peak'"}}
 }},
{"data": {"name": "fd"}, "transform": [{"fold": ["D","G","C"], "as": ["k","v"]}], "mark": {"type": "line", "interpolate": "monotone", "clip": true},
 "encoding": {
  "x": {"field": "x", "type": "quantitative"},
  "y": {"field": "v", "type": "quantitative"},
  "color": {"field": "k", "type": "nominal", "scale": {"domain": ["S","D","G","C"], "range": ["#222222","#d01818","#1fbf1f","#1b1b9e"]}, "legend": {"title": null}},
  "strokeWidth": {"field": "k", "type": "nominal", "scale": {"type": "ordinal", "domain": ["S","D","G","C"], "range": [1, 2.2, 2.2, 3]}, "legend": {"title": null}}
 }},
{"data": {"name": "arr"}, "transform": [{"filter": "datum.p === 'd'"}], "mark": {"type": "rule", "color": "black", "strokeWidth": 2},
 "encoding": {"x": {"field": "x", "type": "quantitative"}, "y": {"field": "y1", "type": "quantitative"}, "y2": {"field": "y2"}}},
{"data": {"name": "arr"}, "transform": [{"filter": "datum.p === 'd'"}], "mark": {"type": "point", "shape": "triangle-up", "filled": true, "color": "black", "size": 45, "opacity": 1},
 "encoding": {"x": {"field": "x", "type": "quantitative"}, "y": {"field": "y2", "type": "quantitative"}}},
{"data": {"name": "arr"}, "transform": [{"filter": "datum.p === 'd'"}], "mark": {"type": "text", "fontSize": 19, "color": "black", "baseline": "middle", "align": "center", "font": "Liberation Sans"},
 "encoding": {"x": {"field": "lx", "type": "quantitative"}, "y": {"field": "ly", "type": "quantitative"}, "text": {"field": "k"}}},
{"data": {"values": [{}]}, "mark": {"type": "text", "fontSize": 20.5, "align": "left", "baseline": "middle", "color": "black", "font": "Liberation Sans"},
 "encoding": {"x": {"datum": 620}, "y": {"datum": 94.1}, "text": {"value": "(C4)_Ti/TiN/Si/a-C_30 min TiN"}}}
]
}
]
}
